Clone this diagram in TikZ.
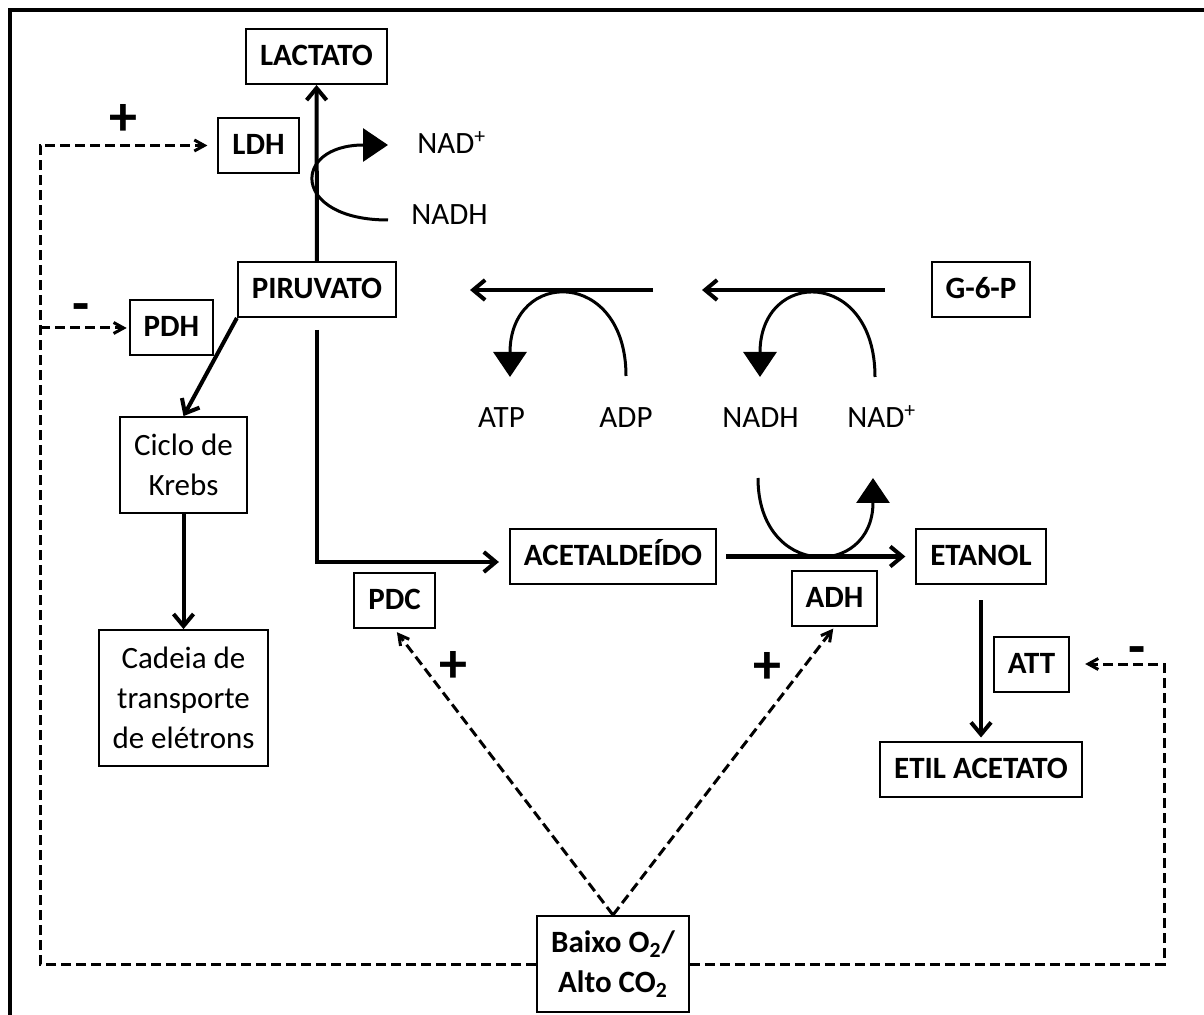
\documentclass[tikz,border=0pt]{standalone}
\usepackage{fontspec}
\setmainfont{Carlito}
\usetikzlibrary{arrows.meta}

\begin{document}
\begin{tikzpicture}[x=0.5pt,y=-0.5pt,
      font=\fontsize{15.5}{20}\selectfont,
      box/.style={draw,line width=1pt,font=\fontsize{15.5}{20}\selectfont\bfseries,
                  minimum height=27.5pt,inner xsep=7pt,inner ysep=3pt,
                  text height=9.5pt,text depth=0.5pt},
      multibox/.style={draw,line width=1pt,align=center,inner xsep=7pt,inner ysep=8.5pt},
      chem/.style={inner sep=0pt},
      sign/.style={font=\fontsize{28}{28}\selectfont\bfseries,inner sep=0pt},
      flow/.style={line width=2pt,-{Straight Barb[length=6pt,width=10pt]}},
      turn/.style={line width=1.5pt,-{Triangle[length=12.5pt,width=16.5pt]}},
      reg/.style={line width=1.5pt,dash pattern=on 5pt off 2.5pt,
                  -{Straight Barb[length=5pt,width=5.5pt]}}]
    \useasboundingbox (0,0) rectangle (1204,1015);
    \draw[line width=1.7pt] (10,1015) -- (10,10) -- (1204,10);

    % boxes
    \node[box] (lactato) at (316.5,56.5) {LACTATO};
    \node[box] (ldh) at (258.5,145.5) {LDH};
    \node[box] (piruvato) at (317,289.5) {PIRUVATO};
    \node[box] (pdh) at (171.5,328) {PDH};
    \node[multibox] (krebs) at (183.5,465) {Ciclo de\\Krebs};
    \node[multibox] (cadeia) at (183.5,698) {Cadeia de\\transporte\\de elétrons};
    \node[box] (g6p) at (981,290) {G-6-P};
    \node[box] (acet) at (613,556.5) {ACETALDEÍDO};
    \node[box] (etanol) at (981,556.5) {ETANOL};
    \node[box] (pdc) at (394.5,600.5) {PDC};
    \node[box] (adh) at (834.5,598.5) {ADH};
    \node[box] (att) at (1031.5,664) {ATT};
    \node[box] (etil) at (981,769) {ETIL ACETATO};
    \node[multibox,font=\fontsize{15.5}{20}\selectfont\bfseries,inner ysep=7.5pt] (baixo)
        at (613,964) {Baixo O\textsubscript{2}/\\Alto CO\textsubscript{2}};

    % cofactors
    \node[chem,anchor=base west] (nadL) at (417,154) {NAD\textsuperscript{+}};
    \node[chem,anchor=base west] (nadhL) at (411,225) {NADH};
    \node[chem,anchor=base] (atp) at (501.5,428) {ATP};
    \node[chem,anchor=base] (adp) at (626,428) {ADP};
    \node[chem,anchor=base] (nadhG) at (760.5,428) {NADH};
    \node[chem,anchor=base west] (nadG) at (847,428) {NAD\textsuperscript{+}};

    % signs
    \node[sign] (sLDH) at (123,120) {+};
    \node[sign,anchor=base] (sPDH) at (81,323) {-};
    \node[sign] (sPDC) at (453,667) {+};
    \node[sign] (sADH) at (767,668) {+};
    \node[sign,anchor=base] (sATT) at (1137,665) {-};

    % lactic branch
    \draw[flow] (piruvato) -- (lactato);
    \coordinate (nadhS) at (388,220);
    \coordinate (nadT) at (388,145);
    \draw[turn] (nadhS) .. controls (291,220) and (291,145) .. (nadT);

    % glycolysis
    \coordinate (glyA) at (885,290);
    \coordinate (glyB) at (702,290);
    \coordinate (glyC) at (653,290);
    \coordinate (glyD) at (470,290);
    \draw[flow] (glyA) -- (glyB);
    \draw[flow] (glyC) -- (glyD);
    \coordinate (adpS) at (626,376);
    \coordinate (atpT) at (510,377);
    \coordinate (nadS) at (875,377);
    \coordinate (nadhT) at (760,377);
    \draw[turn] (adpS) .. controls (626,268) and (510,268) .. (atpT);
    \draw[turn] (nadS) .. controls (875,268) and (760,268) .. (nadhT);

    % fermentation
    \draw[flow,shorten <=6pt,shorten >=5pt] (piruvato.south) |- ([yshift=-2.75pt]acet.west);
    \draw[flow,shorten <=4.5pt,shorten >=5pt] (acet) -- (etanol);
    \coordinate (adhS) at (758,478);
    \coordinate (adhT) at (873,478);
    \draw[turn] (adhS) .. controls (758,579) and (873,579) .. (adhT);
    \draw[flow,shorten <=7.5pt,shorten >=1.5pt] (etanol) -- (etil);

    % respiration
    \draw[flow] (piruvato.south west) -- (krebs.north);
    \draw[flow] (krebs) -- (cadeia);

    % regulation by low O2 / high CO2
    \coordinate (lc) at (40,145.5);
    \coordinate (rc) at (1164,664);
    \draw[reg,shorten >=5pt] (baixo.west) -| (lc) -- (ldh.west);
    \draw[reg,shorten >=1pt] (lc |- pdh.west) -- (pdh.west);
    \draw[reg,shorten >=7.5pt] (baixo.east) -| (rc) -- (att.east);
    \draw[reg,shorten >=2pt] (baixo.north) -- (pdc.south);
    \draw[reg,shorten >=1pt] (baixo.north) -- (adh.south);
  \end{tikzpicture}
\end{document}
